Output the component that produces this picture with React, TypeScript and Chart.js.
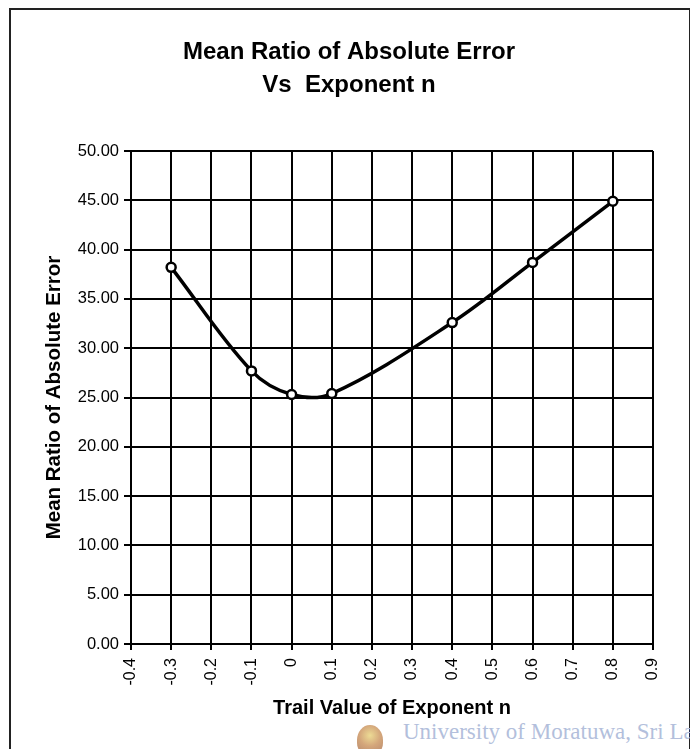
import React, { useEffect, useRef } from 'react';
import { Chart, registerables } from 'chart.js';

Chart.register(...registerables);

// ---- data ----
const xValues = [-0.3, -0.1, 0, 0.1, 0.4, 0.6, 0.8];
const yValues = [38.2, 27.7, 25.3, 25.4, 32.6, 38.7, 44.9];
const titleLines = ['Mean Ratio of Absolute Error', 'Vs  Exponent n'];
const xTitle = 'Trail Value of Exponent n';
const yTitle = 'Mean Ratio of Absolute Error';
const xMin = -0.4;
const xMax = 0.9;
const xStep = 0.1;
const yMin = 0;
const yMax = 50;
const yStep = 5;
const watermark = 'University of Moratuwa, Sri Lanka.';

const FONT = '"Liberation Sans", Arial, sans-serif';

export default function App() {
  const ref = useRef<HTMLCanvasElement>(null);

  useEffect(() => {
    const canvas = ref.current;
    if (!canvas) return;
    const chart = new Chart(canvas, {
      type: 'scatter',
      data: {
        datasets: [
          {
            data: xValues.map((x, i) => ({ x, y: yValues[i] })),
            showLine: true,
            borderColor: '#000',
            borderWidth: 3.5,
            tension: 0.35,
            pointRadius: 4.5,
            pointStyle: 'circle',
            pointBackgroundColor: '#fff',
            pointBorderColor: '#000',
            pointBorderWidth: 2.5,
          },
        ],
      },
      options: {
        responsive: false,
        animation: false,
        events: [],
        layout: { padding: { top: 20, left: 45, right: 37, bottom: 0 } },
        plugins: {
          legend: { display: false },
          tooltip: { enabled: false },
          title: {
            display: true,
            text: titleLines,
            color: '#000',
            font: { family: FONT, size: 24, weight: 'bold', lineHeight: 33 / 24 },
            padding: { top: 15.5, bottom: 49.5 },
          },
        },
        scales: {
          x: {
            type: 'linear',
            min: xMin,
            max: xMax,
            ticks: {
              stepSize: xStep,
              autoSkip: false,
              maxRotation: 90,
              minRotation: 90,
              padding: 8,
              color: '#000',
              font: { family: FONT, size: 16 },
              callback: (v: any) => {
                const n = Math.round(Number(v) * 10) / 10;
                return n === 0 ? '0' : String(n);
              },
            },
            grid: { color: '#000', lineWidth: 2, tickLength: 6 },
            border: { color: '#000', width: 2 },
            title: {
              display: true,
              text: xTitle,
              color: '#000',
              font: { family: FONT, size: 20, weight: 'bold', lineHeight: 1.2 },
              padding: { top: 0, bottom: 29 },
            },
            afterFit: (s: any) => {
              s.height = 105;
            },
          },
          y: {
            type: 'linear',
            min: yMin,
            max: yMax,
            ticks: {
              stepSize: yStep,
              padding: 5,
              color: '#000',
              font: { family: FONT, size: 16.5 },
              callback: (v: any) => Number(v).toFixed(2),
            },
            grid: { color: '#000', lineWidth: 2, tickLength: 7 },
            border: { color: '#000', width: 2 },
            title: {
              display: true,
              text: yTitle,
              color: '#000',
              font: { family: FONT, size: 20.5, weight: 'bold', lineHeight: 0.9 },
              padding: { top: 0, bottom: 0 },
            },
            afterFit: (s: any) => {
              s.width = 86;
            },
          },
        },
      },
    });
    return () => chart.destroy();
  }, []);

  return (
    <div
      style={{
        position: 'fixed',
        left: 0,
        top: 0,
        width: 690,
        height: 749,
        overflow: 'hidden',
        background: '#fff',
      }}
    >
      <div
        style={{
          position: 'absolute',
          left: 9,
          top: 8,
          width: 678,
          height: 800,
          border: '2px solid #222',
        }}
      />
      <div
        style={{
          position: 'absolute',
          left: 357,
          top: 725,
          width: 26,
          height: 30,
          borderRadius: '50% 50% 40% 40%',
          background: 'radial-gradient(circle at 50% 35%, #e8d27a 0%, #c9905a 45%, #b0764e 80%)',
          opacity: 0.8,
        }}
      />
      <div
        style={{
          position: 'absolute',
          left: 403,
          top: 719,
          whiteSpace: 'nowrap',
          fontFamily: '"Liberation Serif", "Times New Roman", serif',
          fontSize: 23,
          color: '#b3bfdc',
        }}
      >
        {watermark}
      </div>
      <canvas
        ref={ref}
        width={690}
        height={749}
        style={{ position: 'absolute', left: 0, top: 0, display: 'block' }}
      />
    </div>
  );
}
